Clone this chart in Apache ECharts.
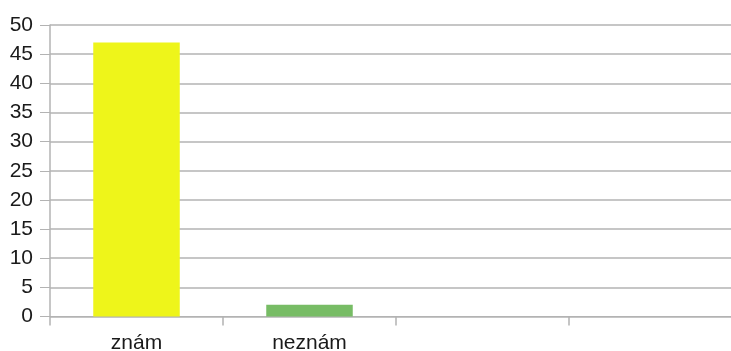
<!DOCTYPE html>
<html>
<head>
<meta charset="utf-8">
<script src="https://cdn.jsdelivr.net/npm/echarts@6/dist/echarts.min.js"></script>
<style>
  html, body { margin: 0; padding: 0; background: #fff; }
  #chart { width: 731px; height: 351px; }
</style>
</head>
<body>
<div id="chart"></div>
<script>
// Categories along the x axis (the last two slots are empty)
const categories = ['znám', 'neznám', '', ''];
// Answer counts per category
const counts = [47, 2, null, null];
// Fill colour per bar
const barColors = ['#eef51a', '#77bc65', '#eef51a', '#77bc65'];

const chart = echarts.init(document.getElementById('chart'), null, { renderer: 'canvas' });

const gray = '#b3b3b3';
chart.setOption({
  animation: false,
  backgroundColor: '#ffffff',
  // plot runs past the right edge of the canvas, so the last category is cut off
  grid: { left: 50, width: 692, top: 25, bottom: 34.5, containLabel: false, outerBoundsMode: 'none' },
  xAxis: {
    type: 'category',
    data: categories,
    boundaryGap: true,
    axisLine: { show: true, lineStyle: { color: gray, width: 1 } },
    axisTick: { show: true, alignWithLabel: false, length: 9, lineStyle: { color: gray, width: 1.5 } },
    axisLabel: { color: '#1a1a1a', fontSize: 21, fontFamily: 'Liberation Sans', margin: 16, interval: 0 },
    splitLine: { show: false }
  },
  yAxis: {
    type: 'value',
    min: 0,
    max: 50,
    interval: 5,
    axisLine: { show: true, lineStyle: { color: gray, width: 1.5 } },
    axisTick: { show: true, length: 10, lineStyle: { color: gray, width: 1 } },
    axisLabel: { color: '#1a1a1a', fontSize: 21, fontFamily: 'Liberation Sans', margin: 17 },
    splitLine: { show: true, lineStyle: { color: gray, width: 1.5 } }
  },
  series: [{
    type: 'bar',
    barWidth: '50%',
    data: counts.map((v, i) => ({ value: v, itemStyle: { color: barColors[i] } }))
  }]
});
</script>
</body>
</html>
